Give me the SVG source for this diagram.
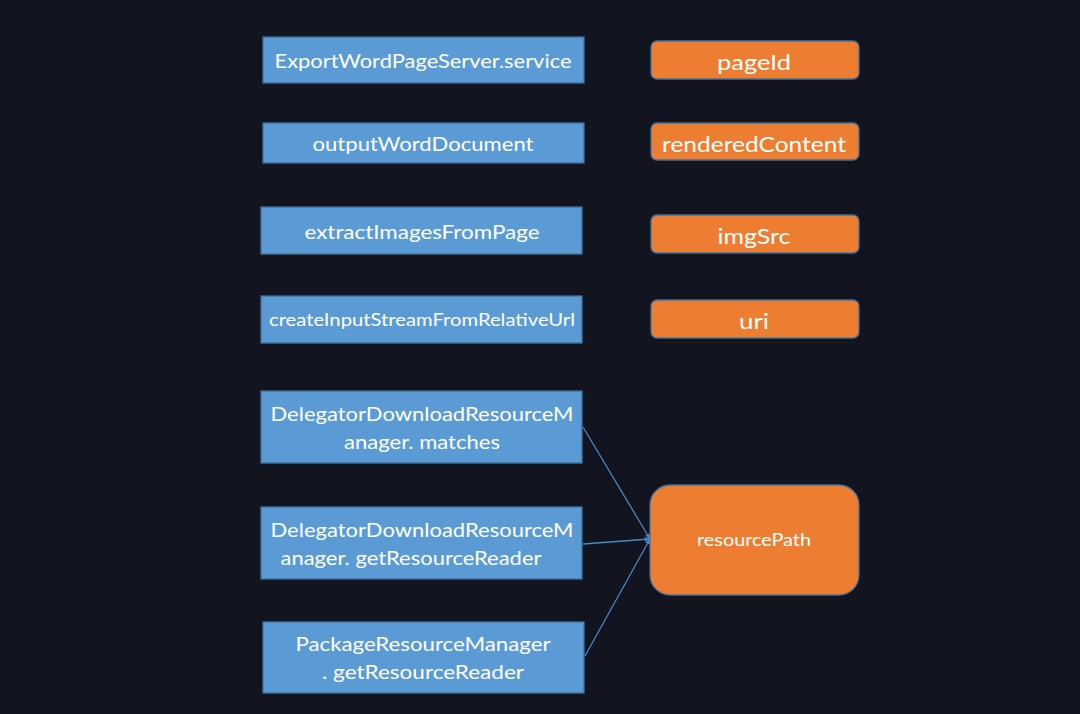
<svg xmlns="http://www.w3.org/2000/svg" width="1080" height="714" viewBox="0 0 1080 714">
<style>
.bg{fill:#12141f}
.b{fill:#5b9bd5;stroke:#41719c;stroke-width:1.3}
.o{fill:#ed7d31;stroke:#41719c;stroke-width:1.3}
text{font-family:Lato,"Open Sans",sans-serif;fill:#ffffff;text-anchor:middle;dominant-baseline:central}
.c{stroke:#4a86c5;stroke-width:1.3;fill:none;marker-end:url(#ah)}
</style>
<defs>
<marker id="ah" viewBox="0 0 10 10" refX="9" refY="5" markerWidth="6" markerHeight="6" orient="auto" markerUnits="userSpaceOnUse">
<path d="M0,1 L10,5 L0,9 z" fill="#4a86c5"/>
</marker>
</defs>
<rect class="bg" x="0" y="0" width="1080" height="714"/>
<g id="n1"><rect class="b" x="263" y="37" width="321" height="46"/><text x="423" y="60" font-size="20" textLength="297" lengthAdjust="spacingAndGlyphs">ExportWordPageServer.service</text></g>
<g id="n2"><rect class="b" x="263" y="123" width="321" height="40"/><text x="423" y="143" font-size="20" textLength="221" lengthAdjust="spacingAndGlyphs">outputWordDocument</text></g>
<g id="n3"><rect class="b" x="261" y="207" width="321" height="47"/><text x="422" y="231" font-size="20" textLength="235" lengthAdjust="spacingAndGlyphs">extractImagesFromPage</text></g>
<g id="n4"><rect class="b" x="261" y="296" width="321" height="47"/><text x="422" y="319" font-size="17" textLength="306" lengthAdjust="spacingAndGlyphs">createInputStreamFromRelativeUrl</text></g>
<g id="n5"><rect class="b" x="261" y="391" width="321" height="72"/><text x="422" y="413" font-size="20" textLength="303" lengthAdjust="spacingAndGlyphs">DelegatorDownloadResourceM</text><text x="422" y="441" font-size="20" textLength="156" lengthAdjust="spacingAndGlyphs">anager. matches</text></g>
<g id="n6"><rect class="b" x="261" y="507" width="321" height="72"/><text x="422" y="529" font-size="20" textLength="303" lengthAdjust="spacingAndGlyphs">DelegatorDownloadResourceM</text><text x="411" y="557" font-size="20" textLength="261" lengthAdjust="spacingAndGlyphs">anager. getResourceReader</text></g>
<g id="n7"><rect class="b" x="263" y="622" width="321" height="71"/><text x="423" y="643" font-size="20" textLength="255" lengthAdjust="spacingAndGlyphs">PackageResourceManager</text><text x="423" y="671" font-size="20" textLength="202" lengthAdjust="spacingAndGlyphs">. getResourceReader</text></g>
<g id="o1"><rect class="o" x="651" y="41" width="208" height="38" rx="6"/><text x="754" y="61" font-size="22" textLength="74" lengthAdjust="spacingAndGlyphs">pageId</text></g>
<g id="o2"><rect class="o" x="651" y="123" width="208" height="37" rx="6"/><text x="754" y="143" font-size="22" textLength="184" lengthAdjust="spacingAndGlyphs">renderedContent</text></g>
<g id="o3"><rect class="o" x="651" y="215" width="208" height="38" rx="6"/><text x="754" y="235" font-size="22" textLength="73" lengthAdjust="spacingAndGlyphs">imgSrc</text></g>
<g id="o4"><rect class="o" x="651" y="300" width="208" height="38" rx="6"/><text x="754" y="320" font-size="22" textLength="30" lengthAdjust="spacingAndGlyphs">uri</text></g>
<g id="o5"><rect class="o" x="650" y="485" width="209" height="110" rx="20"/><text x="754" y="539" font-size="17" textLength="114" lengthAdjust="spacingAndGlyphs">resourcePath</text></g>
<g id="connectors">
<line class="c" x1="583" y1="427" x2="650" y2="539"/>
<line class="c" x1="583" y1="544" x2="650" y2="539"/>
<line class="c" x1="585" y1="656" x2="650" y2="539"/>
</g>
</svg>
